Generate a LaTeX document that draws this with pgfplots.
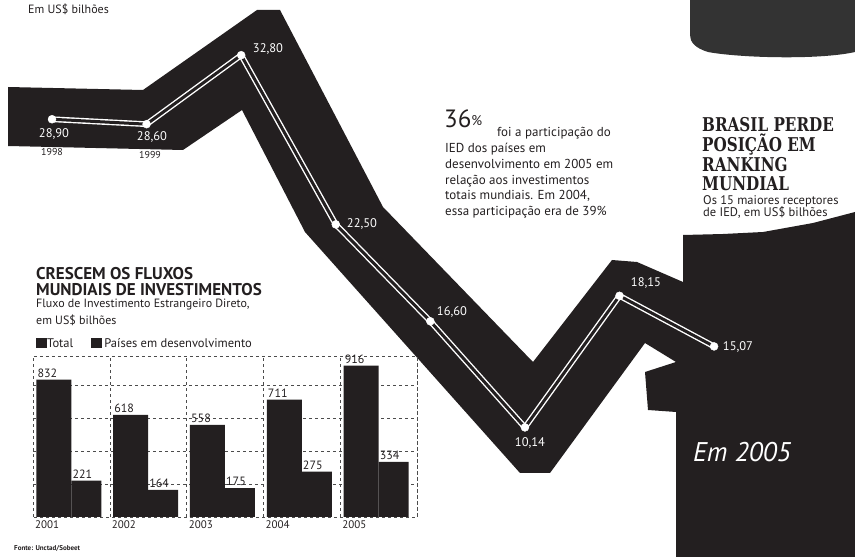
\documentclass[border=0pt]{standalone}
\usepackage{pgfplots}
\usepackage{pgfplotstable}
\pgfplotsset{compat=1.18}
\usepackage{fontspec}
\setmainfont{PT Sans}
\newfontfamily\slab{DejaVu Serif}[FakeStretch=0.8]
\definecolor{ink}{RGB}{35,31,32}

\pgfplotstableread{
year val
1998 28.90
1999 28.60
2000 32.80
2001 22.50
2002 16.60
2003 10.14
2004 18.15
2005 15.07
}\brasil

\pgfplotstableread{
idx total dev
0 832 221
1 618 164
2 558 175
3 711 275
4 916 334
}\fluxos

\begin{document}
\begin{tikzpicture}
\useasboundingbox (0,0) rectangle (855pt,557pt);
\begin{scope}[x=1pt,y=-1pt,yshift=557pt]
  % faint year labels, partly hidden by the band
  \node[font=\fontsize{10}{10}\selectfont,text=ink,inner sep=0pt] at (52,152) {1998};
  \node[font=\fontsize{10}{10}\selectfont,text=ink,inner sep=0pt] at (150,155) {1999};
  % top-right texture
  \fill[black!80] (690,0) -- (855,0) -- (855,52) .. controls (820,60) and (740,58) .. (708,52) .. controls (695,48) and (690,42) .. (690,35) -- cycle;
  % the black band and block
  \fill[ink] (8,87) -- (143,90) -- (257,10) -- (280,10) -- (383,207) -- (533,362) -- (612,260) -- (637,262) -- (683,282) -- (683,235) -- (723,234) -- (763,232) -- (813,223) -- (855,212) -- (855,557) -- (676,557) -- (676,412) -- (648,410) -- (645,372) -- (676,362) -- (645,343) -- (550,473) -- (520,473) -- (305,232) -- (242,110) -- (183,150) -- (8,146) -- cycle;
\end{scope}

\begin{axis}[at={(0pt,0pt)},anchor=south west,scale only axis,width=855pt,height=557pt,
  hide axis,xmin=1997.45,xmax=2006.49,ymin=2.25,ymax=36.16,clip=false]
\addplot[draw=white,line width=1.4pt,double=ink,double distance=3pt,line join=round] table[x=year,y=val]{\brasil};
\addplot[only marks,mark=*,mark size=4pt,mark options={fill=white,draw=white}] table[x=year,y=val]{\brasil};
\end{axis}

\begin{scope}[x=1pt,y=-1pt,yshift=557pt,
  vl/.style={text=white,font=\fontsize{12.5}{12.5}\selectfont,inner sep=0pt}]
  \node[vl] at (54,134) {28,90};
  \node[vl] at (152,137) {28,60};
  \node[vl] at (268,49) {32,80};
  \node[vl] at (362,224) {22,50};
  \node[vl] at (452,312) {16,60};
  \node[vl] at (530,443) {10,14};
  \node[vl] at (646,283) {18,15};
  \node[vl] at (738,347) {15,07};

  \node[anchor=west,inner sep=0pt,font=\fontsize{12}{12}\selectfont,text=ink] at (28,9) {Em US\$ bilhões};

  % bar chart titles
  \node[anchor=base west,inner sep=0pt,font=\bfseries\fontsize{17}{17}\selectfont,text=ink] at (36,280) {CRESCEM OS FLUXOS};
  \node[anchor=base west,inner sep=0pt,font=\bfseries\fontsize{17}{17}\selectfont,text=ink] at (36,296) {MUNDIAIS DE INVESTIMENTOS};
  \node[anchor=west,inner sep=0pt,font=\fontsize{12}{12}\selectfont,text=ink] at (36,305) {Fluxo de Investimento Estrangeiro Direto,};
  \node[anchor=west,inner sep=0pt,font=\fontsize{12}{12}\selectfont,text=ink] at (36,320) {em US\$ bilhões};
  \node[anchor=west,inner sep=0pt,font=\fontsize{12.5}{12.5}\selectfont,text=ink] at (36,343) {\textcolor{ink}{\rule{11pt}{10pt}}Total\hspace{18pt}\textcolor{ink}{\rule{11pt}{10pt}}\,Países em desenvolvimento};
  \node[anchor=west,inner sep=0pt,font=\bfseries\fontsize{7}{7}\selectfont,text=ink] at (14,548) {Fonte: Unctad/Sobeet};

  % 36% note
  \node[anchor=base west,inner sep=0pt,font=\fontsize{25}{25}\selectfont,text=ink] at (444,128) {36{\fontsize{14}{14}\selectfont\raisebox{2pt}{\%}}};
  \node[anchor=base west,inner sep=0pt,font=\fontsize{13}{13}\selectfont,text=ink] at (497,137) {foi a participação do};
  \node[anchor=base west,inner sep=0pt,font=\fontsize{13}{13}\selectfont,text=ink] at (445,152.7) {IED dos países em};
  \node[anchor=base west,inner sep=0pt,font=\fontsize{13}{13}\selectfont,text=ink] at (445,168.4) {desenvolvimento em 2005 em};
  \node[anchor=base west,inner sep=0pt,font=\fontsize{13}{13}\selectfont,text=ink] at (445,184.1) {relação aos investimentos};
  \node[anchor=base west,inner sep=0pt,font=\fontsize{13}{13}\selectfont,text=ink] at (445,199.8) {totais mundiais. Em 2004,};
  \node[anchor=base west,inner sep=0pt,font=\fontsize{13}{13}\selectfont,text=ink] at (445,215.5) {essa participação era de 39\%};

  % right title
  \node[anchor=base west,inner sep=0pt,font=\slab\bfseries\fontsize{19}{19}\selectfont,text=ink] at (702,132) {BRASIL PERDE};
  \node[anchor=base west,inner sep=0pt,font=\slab\bfseries\fontsize{19}{19}\selectfont,text=ink] at (702,152) {POSIÇÃO EM};
  \node[anchor=base west,inner sep=0pt,font=\slab\bfseries\fontsize{19}{19}\selectfont,text=ink] at (702,172) {RANKING};
  \node[anchor=base west,inner sep=0pt,font=\slab\bfseries\fontsize{19}{19}\selectfont,text=ink] at (702,191) {MUNDIAL};
  \node[anchor=base west,inner sep=0pt,font=\fontsize{12.5}{12.5}\selectfont,text=ink] at (703,205) {Os 15 maiores receptores};
  \node[anchor=base west,inner sep=0pt,font=\fontsize{12.5}{12.5}\selectfont,text=ink] at (703,217) {de IED, em US\$ bilhões};

  \node[anchor=base west,inner sep=0pt,font=\itshape\fontsize{27}{27}\selectfont,text=white] at (693,462) {Em 2005};
\end{scope}

\begin{axis}[at={(33pt,40pt)},anchor=south west,scale only axis,width=384pt,height=161pt,
  xmin=-0.5,xmax=4.5,ymin=0,ymax=975,
  ybar,
  /pgf/number format/assume math mode=true,
  axis line style={draw=black!70,dashed,line width=0.5pt},
  xtick={-0.5,0.5,1.5,2.5,3.5,4.5},
  xticklabels={2001,2002,2003,2004,2005,{}},
  xticklabel style={anchor=north west,font=\fontsize{11}{11}\selectfont,text=ink,inner sep=1pt,xshift=1pt,yshift=-2pt},
  major tick length=0pt,
  ytick={200,400,600,800},yticklabels={},
  xmajorgrids,ymajorgrids,
  grid style={dashed,black!70,line width=0.5pt},
  nodes near coords,
  every node near coord/.append style={font=\fontsize{12}{12}\selectfont,text=ink,anchor=south west,inner sep=1pt,yshift=1pt},
]
\addplot[fill=ink,draw=none,bar width=35pt,bar shift=-17.5pt,every node near coord/.append style={xshift=-17.5pt}] table[x=idx,y=total]{\fluxos};
\addplot[fill=ink,draw=none,bar width=30pt,bar shift=15pt,every node near coord/.append style={xshift=-15pt}] table[x=idx,y=dev]{\fluxos};
\end{axis}
\end{tikzpicture}
\end{document}
